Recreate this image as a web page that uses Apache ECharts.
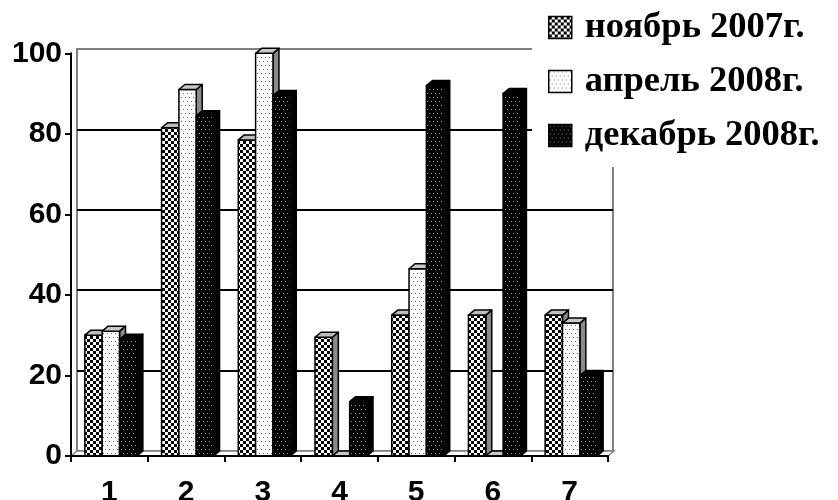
<!DOCTYPE html>
<html><head><meta charset="utf-8">
<script src="https://cdn.jsdelivr.net/npm/echarts@6/dist/echarts.min.js"></script>
<style>html,body{margin:0;padding:0;background:#fff}#c{width:838px;height:500px}</style>
</head><body><div id="c"></div>
<script>
var categories = ['1','2','3','4','5','6','7'];
var seriesNames = ['ноябрь 2007г.', 'апрель 2008г.', 'декабрь 2008г.'];
var nov2007 = [30, 81.5, 78.5, 29.5, 35, 35, 35];
var apr2008 = [31, 91, 100, 0, 46.5, 0, 33];
var dec2008 = [29, 84.5, 89.5, 13.5, 92, 90, 20];
var yTicks = [0, 20, 40, 60, 80, 100];

function makeCanvas(w, h, draw) {
  var c = document.createElement('canvas'); c.width = w; c.height = h;
  draw(c.getContext('2d')); return c;
}
var checker = makeCanvas(6, 6, function (g) {
  g.fillStyle = '#fff'; g.fillRect(0, 0, 6, 6);
  g.fillStyle = '#000'; g.fillRect(0, 0, 3, 3); g.fillRect(3, 3, 3, 3);
});
var lightDots = makeCanvas(4, 8, function (g) {
  g.fillStyle = '#fff'; g.fillRect(0, 0, 4, 8);
  g.fillStyle = '#666'; g.fillRect(1, 1, 1, 1); g.fillRect(3, 5, 1, 1);
});
var darkDots = makeCanvas(4, 8, function (g) {
  g.fillStyle = '#000'; g.fillRect(0, 0, 4, 8);
  g.fillStyle = '#999'; g.fillRect(1, 1, 1, 1); g.fillRect(3, 5, 1, 1);
});
var fronts = [
  {image: checker, repeat: 'repeat'},
  {image: lightDots, repeat: 'repeat'},
  {image: darkDots, repeat: 'repeat'}
];
var tops = ['#bdbdbd', '#c8c8c8', '#000'];
var sides = ['#8a8a8a', '#8a8a8a', '#000'];
var DX = 6, DY = 5;

function barRenderer(k) {
  return function (params, api) {
    var idx = api.value(0), val = api.value(1);
    var p0 = api.coord([idx, 0]);
    var p1 = api.coord([idx, val]);
    var band = api.size([1, 0])[0];
    var bw = band * 0.226;
    var x0 = p0[0] - 1.5 * bw + k * bw + 1.5;
    var y0 = p0[1], y1 = p1[1];
    var st = {stroke: '#000', lineWidth: 1.5, lineJoin: 'round'};
    return {
      type: 'group',
      children: [
        {type: 'polygon', shape: {points: [[x0 + bw, y1], [x0 + bw + DX, y1 - DY], [x0 + bw + DX, y0 - DY], [x0 + bw, y0]]},
          style: Object.assign({fill: sides[k]}, st)},
        {type: 'rect', shape: {x: x0, y: y1, width: bw, height: y0 - y1},
          style: Object.assign({fill: fronts[k]}, st)},
        {type: 'polygon', shape: {points: [[x0, y1], [x0 + DX, y1 - DY], [x0 + bw + DX, y1 - DY], [x0 + bw, y1]]},
          style: Object.assign({fill: tops[k]}, st)}
      ]
    };
  };
}

function floorRenderer(params, api) {
  var cs = params.coordSys;
  var xb = cs.x, yb = cs.y + cs.height, w = cs.width;
  return {
    type: 'polygon',
    shape: {points: [[xb, yb], [xb + DX, yb - DY], [xb + w + DX, yb - DY], [xb + w, yb]]},
    style: {fill: '#fff', stroke: '#808080', lineWidth: 1.5},
    z2: -1
  };
}

var allData = [nov2007, apr2008, dec2008];
var series = allData.map(function (arr, k) {
  return {
    name: seriesNames[k], type: 'custom', xAxisIndex: 0, yAxisIndex: 0,
    renderItem: barRenderer(k),
    itemStyle: {color: fronts[k], borderColor: '#000', borderWidth: 1.5},
    encode: {x: 0, y: 1},
    data: arr.map(function (v, i) { return [i, v]; }),
    z: 5
  };
});
series.unshift({
  type: 'custom', xAxisIndex: 0, yAxisIndex: 0, renderItem: floorRenderer,
  data: [[0, 0]], silent: true, z: 1
});

var lineColors = yTicks.map(function (t, i) { return (i === 0 || i === yTicks.length - 1) ? '#808080' : '#000'; });
var axisFont = {color: '#000', fontWeight: 'bold', fontSize: 30, fontFamily: 'Arial, "Liberation Sans", sans-serif'};

var chart = echarts.init(document.getElementById('c'), null, {renderer: 'canvas'});
chart.setOption({
  animation: false,
  backgroundColor: '#fff',
  grid: [
    {left: 71, right: 230, top: 53.3, bottom: 44, show: false, containLabel: false, outerBoundsMode: 'none'},
    {left: 77, right: 225, top: 49, bottom: 49, show: true, borderColor: '#808080', borderWidth: 2, backgroundColor: 'transparent', containLabel: false, outerBoundsMode: 'none'}
  ],
  legend: {
    data: seriesNames.map(function (n, k) {
      return {name: n, icon: 'rect', itemStyle: {color: fronts[k], borderColor: '#000', borderWidth: 1.5}};
    }),
    orient: 'vertical', left: 532, top: 0,
    padding: [8, 10, 12, 16],
    backgroundColor: '#fff',
    itemWidth: 23, itemHeight: 22, itemGap: 15,
    textStyle: {fontFamily: '"Times New Roman", "Liberation Serif", serif', fontWeight: 'bold', fontSize: 36.5, lineHeight: 39, color: '#000', padding: [0, 0, 0, 8]},
    selectedMode: false, z: 20
  },
  xAxis: [
    {type: 'category', gridIndex: 0, data: categories,
      axisLine: {lineStyle: {color: '#000', width: 2}},
      axisTick: {show: true, length: 6, lineStyle: {color: '#000', width: 2}},
      axisLabel: Object.assign({margin: 22}, axisFont),
      splitLine: {show: false}, z: 10},
    {type: 'category', gridIndex: 1, data: categories, show: false}
  ],
  yAxis: [
    {type: 'value', gridIndex: 0, min: 0, max: 100, interval: 20,
      axisLine: {show: true, lineStyle: {color: '#000', width: 2}},
      axisTick: {show: true, length: 6, lineStyle: {color: '#000', width: 2}},
      axisLabel: Object.assign({margin: 9}, axisFont),
      splitLine: {show: false}, z: 10},
    {type: 'value', gridIndex: 1, min: 0, max: 100, interval: 20,
      axisLine: {show: false}, axisTick: {show: false}, axisLabel: {show: false},
      splitLine: {show: true, lineStyle: {color: lineColors, width: 2}}}
  ],
  series: series
});
</script></body></html>
